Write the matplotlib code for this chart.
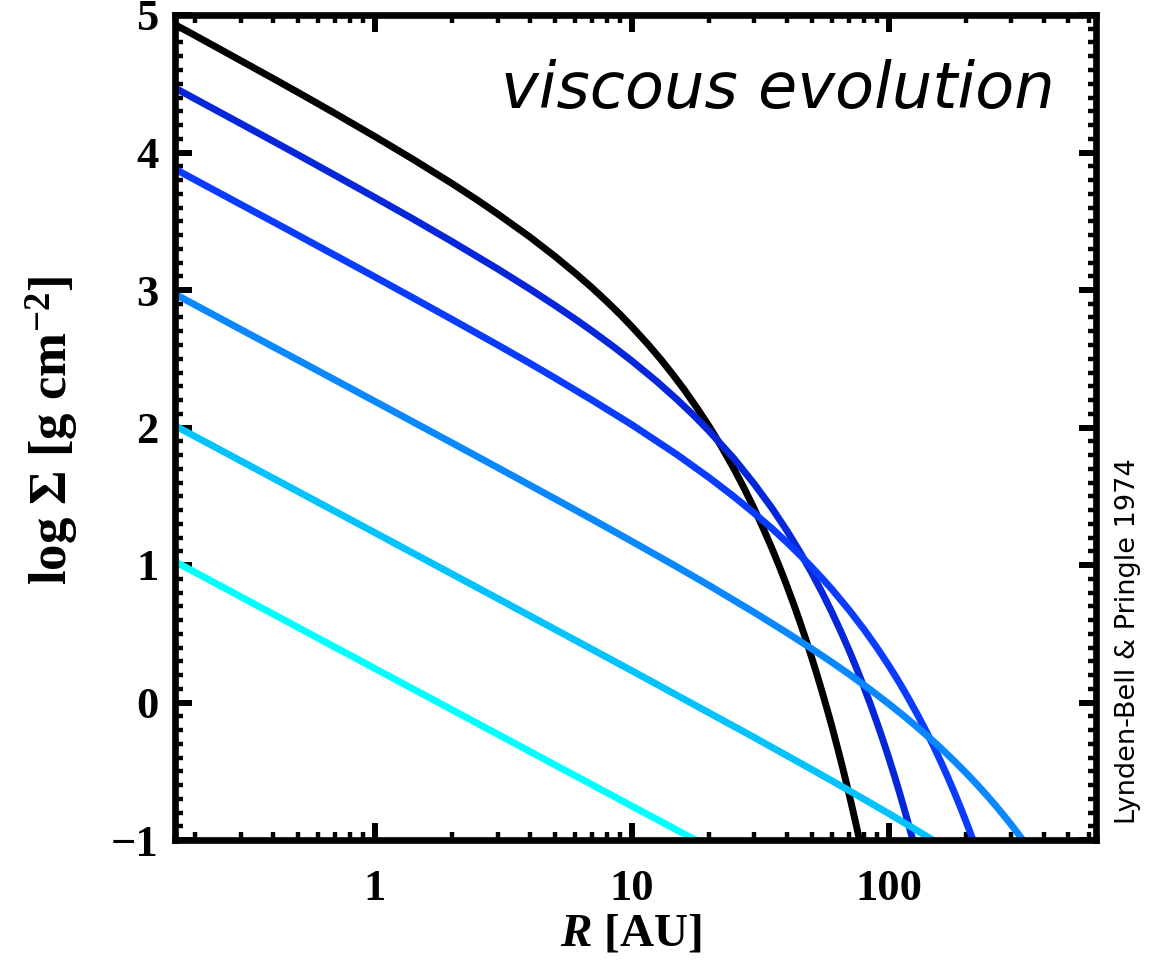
import numpy as np
import matplotlib.pyplot as plt

# 字体：刻度与坐标轴标题用粗体衬线字体
plt.rcParams['font.family'] = ['Liberation Serif', 'DejaVu Serif']
plt.rcParams['mathtext.fontset'] = 'custom'
plt.rcParams['mathtext.rm'] = 'Liberation Serif:bold'
plt.rcParams['mathtext.it'] = 'Liberation Serif:italic:bold'

# 1. 曲线数据 (R [AU], log Sigma)
r_black = [0.1667, 0.2, 0.3, 0.4, 0.5, 0.7, 1, 1.4, 2, 2.5, 3, 4, 5, 6, 7, 8,
           9, 10, 11.5, 13, 14.5, 16, 18, 20, 22, 25, 27.5, 30, 32.5, 35,
           37.5, 40, 42.5, 45, 47.5, 50, 52.5, 55, 57.5, 60, 62.5, 65, 67.5,
           70, 72.5, 75, 78]
s_black = [4.930, 4.850, 4.669, 4.540, 4.439, 4.284, 4.116, 3.953, 3.773,
           3.655, 3.554, 3.387, 3.247, 3.125, 3.016, 2.915, 2.822, 2.733,
           2.609, 2.492, 2.380, 2.274, 2.137, 2.007, 1.880, 1.697, 1.549,
           1.405, 1.263, 1.125, 0.989, 0.854, 0.721, 0.590, 0.460, 0.331,
           0.204, 0.077, -0.048, -0.173, -0.298, -0.421, -0.544, -0.666,
           -0.788, -0.909, -1.054]

r_blue1 = [0.1667, 0.2, 0.3, 0.4, 0.5, 0.7, 1, 1.4, 2, 3, 4, 5, 6, 7, 8.5,
           10, 12.5, 15, 17.5, 20, 25, 30, 35, 40, 45, 50, 55, 60, 65, 70,
           75, 80, 85, 90, 95, 100, 105, 110, 115, 120, 125]
s_blue1 = [4.469, 4.389, 4.211, 4.084, 3.985, 3.834, 3.673, 3.519, 3.351,
           3.154, 3.008, 2.890, 2.790, 2.702, 2.586, 2.484, 2.335, 2.203,
           2.084, 1.973, 1.772, 1.587, 1.416, 1.253, 1.097, 0.946, 0.800,
           0.657, 0.517, 0.380, 0.245, 0.112, -0.019, -0.149, -0.277, -0.404,
           -0.530, -0.655, -0.780, -0.903, -1.026]

r_blue2 = [0.1667, 0.2, 0.3, 0.4, 0.5, 0.7, 1, 1.4, 2, 3, 4, 5, 7, 10, 15,
           20, 25, 30, 35, 40, 45, 50, 55, 60, 70, 80, 90, 100, 110, 120,
           130, 140, 150, 160, 170, 180, 190, 200, 207, 215]
s_blue2 = [3.880, 3.800, 3.623, 3.498, 3.400, 3.252, 3.095, 2.945, 2.785,
           2.601, 2.468, 2.362, 2.199, 2.020, 1.802, 1.635, 1.496, 1.375,
           1.267, 1.167, 1.074, 0.986, 0.903, 0.824, 0.673, 0.532, 0.397,
           0.268, 0.143, 0.021, -0.097, -0.213, -0.326, -0.438, -0.548,
           -0.656, -0.763, -0.869, -0.942, -1.026]

r_blue3 = [0.1667, 0.3, 0.5, 1, 2, 3, 5, 7, 10, 15, 20, 30, 40, 50, 60, 70,
           85, 100, 115, 130, 145, 160, 180, 200, 220, 240, 260, 280, 300,
           320, 330, 340]
s_blue3 = [2.970, 2.714, 2.492, 2.190, 1.887, 1.709, 1.483, 1.333, 1.172,
           0.986, 0.851, 0.654, 0.509, 0.392, 0.293, 0.206, 0.091, -0.010,
           -0.101, -0.185, -0.262, -0.335, -0.427, -0.513, -0.595, -0.673,
           -0.748, -0.821, -0.891, -0.959, -0.993, -1.026]

r_blue4 = [0.1667, 1, 3, 10, 30, 50, 60, 80, 100, 115, 130, 140, 150]
s_blue4 = [2.013, 1.235, 0.757, 0.231, -0.255, -0.486, -0.569, -0.703,
           -0.808, -0.876, -0.935, -0.972, -1.006]

r_cyan = [0.1667, 1, 5, 18]
s_cyan = [1.025, 0.247, -0.452, -1.008]

curves = [(r_black, s_black, 'black'),
          (r_blue1, s_blue1, '#0626d9'),
          (r_blue2, s_blue2, '#0a3cff'),
          (r_blue3, s_blue3, '#0a88ff'),
          (r_blue4, s_blue4, '#00c3ff'),
          (r_cyan, s_cyan, '#00ffff')]

x_ticks = [1, 10, 100]
x_labels = ['1', '10', '100']
y_ticks = [-1, 0, 1, 2, 3, 4, 5]

# 2. 画图
fig = plt.figure(figsize=(11.62, 9.64), dpi=100)
ax = fig.add_axes([175 / 1162, 124 / 964, 921 / 1162, 825 / 964])

for r, s, c in curves:
  ax.plot(r, s, color=c, lw=5, solid_capstyle='butt', solid_joinstyle='round')

ax.set_xscale('log')
ax.set_xlim(1 / 6, 640)
ax.set_ylim(-1, 5)
ax.set_xticks(x_ticks)
ax.set_xticklabels(x_labels)
ax.set_yticks(y_ticks)
ax.yaxis.set_minor_locator(plt.MultipleLocator(0.1))

for sp in ax.spines.values():
  sp.set_linewidth(4.8)

ax.tick_params(which='both', direction='in', top=True, right=True)
ax.tick_params(which='major', length=12, width=4.3, labelsize=32)
ax.tick_params(which='minor', length=6, width=3.2)
ax.tick_params(axis='x', which='major', pad=21)
ax.tick_params(axis='y', which='major', pad=12)
for lab in ax.get_xticklabels() + ax.get_yticklabels():
  lab.set_fontweight('bold')

# 3. 文字
ax.text(0.9555, 0.887, 'viscous evolution', transform=ax.transAxes,
        ha='right', va='baseline', fontsize=46, style='italic',
        family='DejaVu Sans')
fig.text(1128 / 1162, 1 - 641 / 964, 'Lynden-Bell & Pringle 1974',
         rotation=90, ha='center', va='center', fontsize=19.5,
         family='DejaVu Sans')
fig.text(52 / 1162, 1 - 430 / 964, 'log Σ [g cm$^{-2}$]', rotation=90,
         ha='center', va='center', fontsize=38, fontweight='bold')
fig.text(631 / 1162, 1 - 935 / 964, '$R$ [AU]', ha='center', va='center',
         fontsize=34, fontweight='bold')

fig.savefig('out.png', dpi=100)
